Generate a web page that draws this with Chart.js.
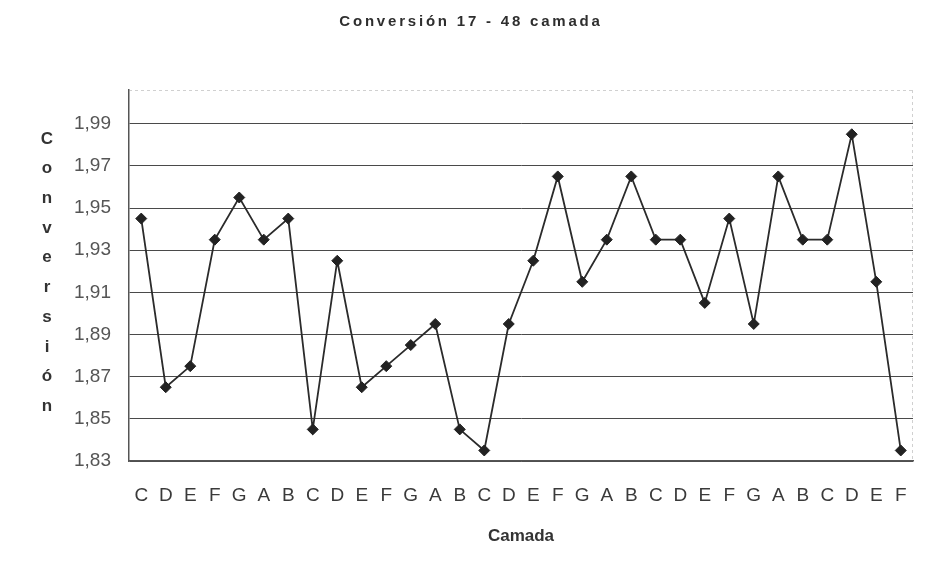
<!DOCTYPE html>
<html>
<head>
<meta charset="utf-8">
<script src="https://cdn.jsdelivr.net/npm/chart.js@4/dist/chart.umd.min.js"></script>
<style>
  html, body { margin: 0; padding: 0; background: #ffffff; }
  #wrap { width: 925px; height: 580px; position: relative; }
</style>
</head>
<body>
<div id="wrap"><canvas id="chart" width="925" height="580"></canvas></div>
<script>
// Camadas 17 a 48 (ciclo de letras C..B)
const camadas = ['C','D','E','F','G','A','B','C','D','E','F','G','A','B','C','D',
                 'E','F','G','A','B','C','D','E','F','G','A','B','C','D','E','F'];

// Índice de conversión por camada
const conversion = [1.945, 1.865, 1.875, 1.935, 1.955, 1.935, 1.945, 1.845,
                    1.925, 1.865, 1.875, 1.885, 1.895, 1.845, 1.835, 1.895,
                    1.925, 1.965, 1.915, 1.935, 1.965, 1.935, 1.935, 1.905,
                    1.945, 1.895, 1.965, 1.935, 1.935, 1.985, 1.915, 1.835];

// Marcas del eje vertical
const yTicks = [1.83, 1.85, 1.87, 1.89, 1.91, 1.93, 1.95, 1.97, 1.99];

const titulo = 'Conversión 17 - 48 camada';
const tituloEjeY = 'Conversión';
const tituloEjeX = 'Camada';

const FONT = '"Liberation Sans", Arial, sans-serif';

// Título con espaciado de letras, título vertical letra a letra y marco tenue
const decoraciones = {
  id: 'decoraciones',
  afterDraw(chart) {
    const ctx = chart.ctx;
    const area = chart.chartArea;
    ctx.save();

    // Marco superior y derecho, muy tenue
    ctx.strokeStyle = 'rgba(150,150,150,0.45)';
    ctx.lineWidth = 1;
    ctx.setLineDash([3, 3]);
    ctx.beginPath();
    ctx.moveTo(area.left, area.top + 0.5);
    ctx.lineTo(area.right, area.top + 0.5);
    ctx.moveTo(area.right - 0.5, area.top);
    ctx.lineTo(area.right - 0.5, area.bottom);
    ctx.stroke();
    ctx.setLineDash([]);

    // Título
    ctx.fillStyle = '#2e2e2e';
    ctx.font = 'bold 15px ' + FONT;
    ctx.textAlign = 'center';
    ctx.textBaseline = 'middle';
    if ('letterSpacing' in ctx) ctx.letterSpacing = '2.8px';
    ctx.fillText(titulo, 471, 22);
    if ('letterSpacing' in ctx) ctx.letterSpacing = '0px';

    // Título del eje vertical, una letra bajo otra
    ctx.font = 'bold 17px ' + FONT;
    ctx.fillStyle = '#333333';
    const letras = Array.from(tituloEjeY);
    const y0 = 139, paso = 29.7;
    letras.forEach((l, i) => ctx.fillText(l, 47, y0 + i * paso));

    ctx.restore();
  }
};

new Chart(document.getElementById('chart'), {
  type: 'line',
  data: {
    labels: camadas,
    datasets: [{
      label: tituloEjeY,
      data: conversion,
      borderColor: '#2b2b2b',
      borderWidth: 1.8,
      tension: 0,
      fill: false,
      pointStyle: 'rectRot',
      pointRadius: 5.5,
      pointHoverRadius: 5.5,
      pointBackgroundColor: '#222222',
      pointBorderColor: '#222222',
      pointBorderWidth: 1
    }]
  },
  options: {
    responsive: false,
    animation: false,
    events: [],
    layout: { padding: { top: 90, right: 12, left: 0, bottom: 0 } },
    plugins: {
      legend: { display: false },
      title: { display: false },
      tooltip: { enabled: false }
    },
    scales: {
      x: {
        type: 'category',
        offset: true,
        grid: { display: false, drawTicks: false },
        border: { display: true, color: '#555555', width: 1.5 },
        ticks: {
          color: '#3a3a3a',
          font: { family: FONT, size: 19 },
          padding: 23,
          maxRotation: 0,
          minRotation: 0,
          autoSkip: false
        },
        title: {
          display: true,
          text: tituloEjeX,
          color: '#333333',
          font: { family: FONT, size: 17, weight: 'bold' },
          padding: { top: 0, bottom: 33 }
        },
        afterFit(scale) {
          scale.height = 119;
          scale.paddingLeft = 0;
          scale.paddingRight = 0;
        }
      },
      y: {
        type: 'linear',
        min: 1.83,
        max: 2.006,
        grid: { color: '#4a4a4a', lineWidth: 1, drawTicks: false },
        border: { display: true, color: '#555555', width: 1.5 },
        ticks: {
          color: '#555555',
          font: { family: FONT, size: 19 },
          padding: 18,
          callback: v => v.toFixed(2).replace('.', ',')
        },
        afterBuildTicks(scale) {
          scale.ticks = yTicks.map(v => ({ value: v }));
        },
        afterFit(scale) {
          scale.width = 129;
          scale.paddingTop = 0;
          scale.paddingBottom = 0;
        }
      }
    }
  },
  plugins: [decoraciones]
});
</script>
</body>
</html>
